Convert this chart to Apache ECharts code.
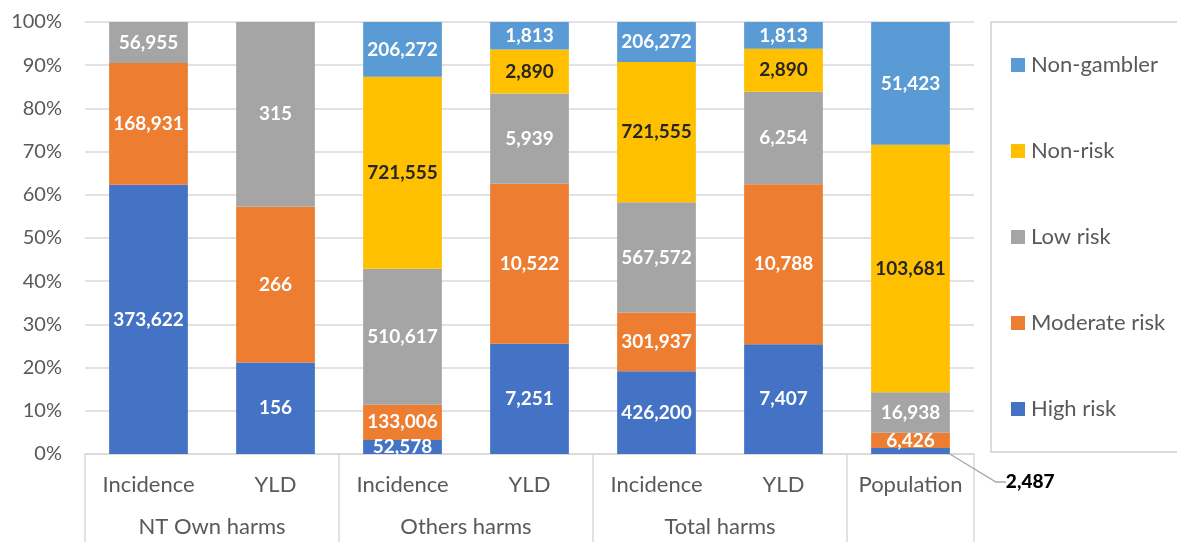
<!DOCTYPE html>
<html>
<head>
<meta charset="utf-8">
<script src="https://cdn.jsdelivr.net/npm/echarts@6/dist/echarts.min.js"></script>
<style>
  html, body { margin: 0; padding: 0; background: #fff; }
  #chart { width: 1177px; height: 542px; }
</style>
</head>
<body>
<div id="chart"></div>
<script>
// Sub-categories (first axis row) and their groups (second axis row)
const categories = ['Incidence', 'YLD', 'Incidence', 'YLD', 'Incidence', 'YLD', 'Population'];
const groupNames = ['NT Own harms', 'Others harms', 'Total harms'];
const yTickLabels = ['0%', '10%', '20%', '30%', '40%', '50%', '60%', '70%', '80%', '90%', '100%'];

// Counts by gambler risk segment (null = no value)
const highRisk     = [373622, 156, 52578, 7251, 426200, 7407, 2487];
const moderateRisk = [168931, 266, 133006, 10522, 301937, 10788, 6426];
const lowRisk      = [56955, 315, 510617, 5939, 567572, 6254, 16938];
const nonRisk      = [null, null, 721555, 2890, 721555, 2890, 103681];
const nonGambler   = [null, null, 206272, 1813, 206272, 1813, 51423];

const seriesDefs = [
  { name: 'High risk',     values: highRisk,     color: '#4472C4', labelColor: '#ffffff' },
  { name: 'Moderate risk', values: moderateRisk, color: '#ED7D31', labelColor: '#ffffff' },
  { name: 'Low risk',      values: lowRisk,      color: '#A5A5A5', labelColor: '#ffffff' },
  { name: 'Non-risk',      values: nonRisk,      color: '#FFC000', labelColor: '#262626' },
  { name: 'Non-gambler',   values: nonGambler,   color: '#5B9BD5', labelColor: '#ffffff' }
];

// Column totals, so each stack fills 100%
const totals = categories.map((_, i) =>
  seriesDefs.reduce((s, d) => s + (d.values[i] || 0), 0));

const FONT = 'Lato';
const fmt = v => Number(v).toLocaleString('en-US');

const series = seriesDefs.map((d, si) => ({
  name: d.name,
  type: 'bar',
  stack: 'share',
  barWidth: '62%',
  xAxisIndex: 0,
  itemStyle: { color: d.color },
  emphasis: { disabled: true },
  data: d.values.map((v, i) => {
    if (v === null) return null;
    const item = { value: v / totals[i] * 100, raw: v };
    // the smallest population slice carries its label outside with a leader line
    if (si === 0 && i === 6) {
      item.label = { color: '#000000', fontWeight: 900, fontSize: 19, fontFamily: FONT };
      item.labelLine = { show: true, length2: 10, lineStyle: { color: '#a6a6a6', width: 1.3 } };
    }
    return item;
  }),
  label: {
    show: true,
    position: 'inside',
    fontFamily: FONT,
    fontSize: 19,
    fontWeight: 'bold',
    color: d.labelColor,
    formatter: p => fmt(p.data.raw)
  },
  labelLayout: si === 0 ? function (params) {
    if (params.dataIndex === 6) {
      const r = params.rect;
      return {
        x: r.x + r.width + 56,
        y: r.y + r.height + 28,
        align: 'left',
        verticalAlign: 'middle'
      };
    }
    return {};
  } : undefined
}));

const chart = echarts.init(document.getElementById('chart'));
chart.setOption({
  animation: false,
  backgroundColor: '#ffffff',
  grid: { left: 85, right: 203, top: 22, bottom: 88, containLabel: false },
  legend: {
    orient: 'vertical',
    left: 1011,
    top: 54,
    padding: 0,
    itemWidth: 14,
    itemHeight: 14,
    itemGap: 64,
    icon: 'rect',
    selectedMode: false,
    data: ['Non-gambler', 'Non-risk', 'Low risk', 'Moderate risk', 'High risk'],
    textStyle: { fontFamily: FONT, fontSize: 22, color: '#595959', lineHeight: 22, padding: [0, 0, 0, 1] }
  },
  graphic: [{
    type: 'rect',
    shape: { x: 991, y: 22, width: 200, height: 430 },
    style: { fill: 'none', stroke: '#d0d0d0', lineWidth: 1.5 },
    silent: true
  }],
  xAxis: [
    {
      type: 'category',
      data: categories,
      position: 'bottom',
      axisLine: { show: true, lineStyle: { color: '#d9d9d9', width: 1.5 } },
      axisTick: { show: false },
      axisLabel: { interval: 0, hideOverlap: false, fontFamily: FONT, fontSize: 22, color: '#595959', margin: 20 },
      splitLine: { show: false }
    },
    {
      type: 'value',
      min: 0,
      max: 7,
      position: 'bottom',
      axisLine: { show: false },
      axisTick: {
        show: true,
        length: 88,
        customValues: [0, 2, 4, 6, 7],
        lineStyle: { color: '#d9d9d9', width: 1.5 }
      },
      axisLabel: {
        show: true,
        customValues: [1, 3, 5],
        fontFamily: FONT,
        fontSize: 22,
        color: '#595959',
        margin: 62,
        formatter: v => groupNames[(v - 1) / 2]
      },
      splitLine: { show: false }
    }
  ],
  yAxis: {
    type: 'value',
    min: 0,
    max: 100,
    interval: 10,
    axisLine: { show: false },
    axisTick: { show: false },
    axisLabel: {
      fontFamily: FONT,
      fontSize: 20,
      color: '#595959',
      margin: 23,
      formatter: v => yTickLabels[Math.round(v / 10)]
    },
    splitLine: { lineStyle: { color: '#d9d9d9', width: 1.5 } }
  },
  series: series
});
</script>
</body>
</html>
